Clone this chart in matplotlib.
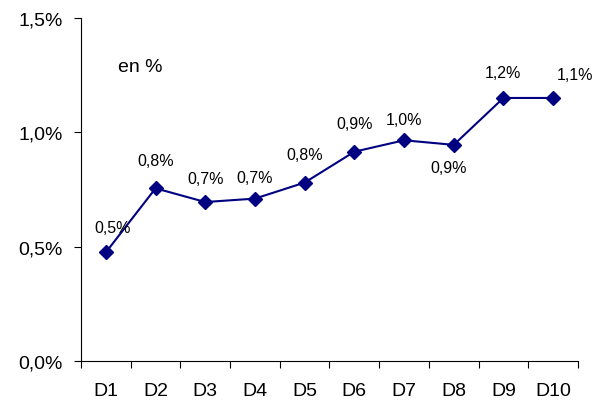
import numpy as np
import matplotlib.pyplot as plt
from matplotlib.ticker import FixedLocator

plt.rcParams['font.family'] = ['Liberation Sans', 'DejaVu Sans']

deciles = ['D1', 'D2', 'D3', 'D4', 'D5', 'D6', 'D7', 'D8', 'D9', 'D10']
valeurs = [0.475, 0.755, 0.695, 0.71, 0.78, 0.915, 0.965, 0.945, 1.15, 1.15]
etiquettes = ['0,5%', '0,8%', '0,7%', '0,7%', '0,8%', '0,9%', '1,0%', '0,9%', '1,2%', '1,1%']
yticks = [0, 0.5, 1.0, 1.5]
ytick_labels = ['0,0%', '0,5%', '1,0%', '1,5%']

# decalage des etiquettes (points)
decal = [(5, 18), (0, 20), (0, 17), (0, 15), (0, 20), (0, 20), (0, 15), (-4, -16), (0, 18), (16, 17)]

fig = plt.figure(figsize=(5.98, 4.06), dpi=100)
ax = fig.add_axes([0.1355, 0.1084, 0.831, 0.845])

x = np.arange(len(deciles))
ax.plot(x, valeurs, '-', color='#000080', lw=1.5, marker='D', markersize=7.5)

for i in range(len(x)):
    ax.annotate(etiquettes[i], xy=(x[i], valeurs[i]), xytext=decal[i], textcoords='offset points',
                ha='center', va='center', fontsize=11.5)

ax.text(0.12, 0.857, 'en %', transform=ax.transAxes, ha='center', va='center', fontsize=14)

ax.set_xlim(-0.5, 9.5)
ax.set_ylim(0, 1.5)
ax.set_yticks(yticks)
ax.set_yticklabels(ytick_labels, fontsize=14)
ax.set_xticks(x)
ax.set_xticklabels(deciles, fontsize=14)
ax.xaxis.set_minor_locator(FixedLocator(np.arange(-0.5, 10, 1)))
ax.tick_params(axis='x', which='major', length=0, pad=15)
ax.tick_params(axis='x', which='minor', length=5, width=0.8, direction='out')
ax.tick_params(axis='y', length=5, width=0.8, pad=8)

ax.spines['top'].set_visible(False)
ax.spines['right'].set_visible(False)
for s in ['left', 'bottom']:
    ax.spines[s].set_linewidth(0.8)

plt.savefig('out.png', dpi=100)
